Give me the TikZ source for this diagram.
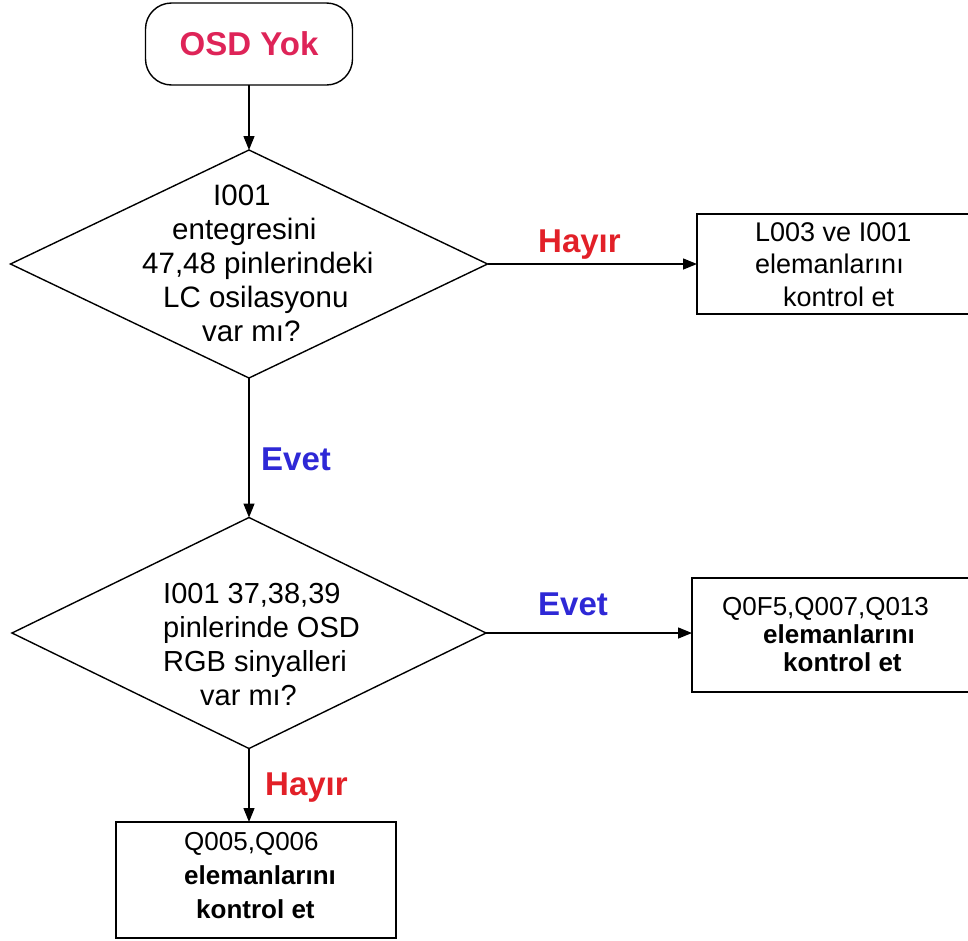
\documentclass[tikz,border=0pt]{standalone}
\usepackage{fontspec}
\setmainfont{Liberation Sans}
\usetikzlibrary{shapes.geometric,arrows.meta}
\definecolor{nored}{RGB}{226,32,40}
\definecolor{yesblue}{RGB}{46,40,214}
\definecolor{titlepink}{RGB}{222,36,88}

\begin{document}
\begin{tikzpicture}[x=1pt,y=-1pt,
  outline/.style={draw=black,line width=1.4pt,inner sep=0pt,outer sep=0pt},
  decision/.style={outline,diamond},
  actionbox/.style={outline,rectangle},
  flow/.style={line width=1.4pt,-{Triangle[length=14pt,width=11pt]}},
  body/.style={anchor=north west,inner sep=0pt,align=left,text=black},
  answer/.style={anchor=base west,inner sep=0pt,font=\fontsize{33}{36}\selectfont\bfseries}]

\useasboundingbox (0,0) rectangle (968,940);

% shapes
\node[outline, rounded corners=26pt, minimum width=207pt, minimum height=82pt,
      font=\fontsize{33}{36}\selectfont\bfseries, text=titlepink] (start) at (249,44) {OSD Yok};
\node[decision, minimum width=477pt, minimum height=228pt] (q1) at (249,264) {};
\node[actionbox, minimum width=280pt, minimum height=100pt] (r1) at (837,264) {};
\node[decision, minimum width=474pt, minimum height=231pt] (q2) at (249,633) {};
\node[actionbox, minimum width=285pt, minimum height=114pt] (r2) at (834.5,635) {};
\node[actionbox, minimum width=280pt, minimum height=116pt] (r3) at (256,880) {};

% texts inside the shapes
\node[body, font=\fontsize{29.5}{34}\selectfont] (t1) at (142,185)
  {\hspace*{71pt}I001\\ \hspace*{30pt}entegresini\\ 47,48 pinlerindeki\\ \hspace*{21pt}LC osilasyonu\\ \hspace*{60pt}var mı?};
\node[body, font=\fontsize{27}{32.5}\selectfont] (t2) at (755,222)
  {L003 ve I001\\ elemanlarını\\ \hspace*{28pt}kontrol et};
\node[body, font=\fontsize{29}{34}\selectfont] (t3) at (163,583)
  {I001 37,38,39\\ pinlerinde OSD\\ RGB sinyalleri\\ \hspace*{37pt}var mı?};
\node[body, font=\fontsize{26}{28}\selectfont] (t4) at (722,597)
  {Q0F5,Q007,Q013\\ \hspace*{41pt}{\bfseries elemanlarını}\\ \hspace*{61pt}{\bfseries kontrol et}};
\node[body, font=\fontsize{26}{34}\selectfont] (t5) at (184,832)
  {Q005,Q006\\ {\bfseries elemanlarını}\\ \hspace*{12pt}{\bfseries kontrol et}};

% connectors
\draw[flow] (start.south) -- (q1.north);
\draw[flow] (q1.east) -- (r1.west);
\draw[flow] (q1.south) -- (q2.north);
\draw[flow] (q2.east) -- (q2.east -| r2.west);
\draw[flow] (q2.south) -- (q2.south |- r3.north);

% branch labels
\node[answer, text=nored] (no1) at (538,252) {Hayır};
\node[answer, text=yesblue] (yes1) at (261,470) {Evet};
\node[answer, text=yesblue] (yes2) at (538,615) {Evet};
\node[answer, text=nored] (no2) at (265,795) {Hayır};
\end{tikzpicture}
\end{document}
